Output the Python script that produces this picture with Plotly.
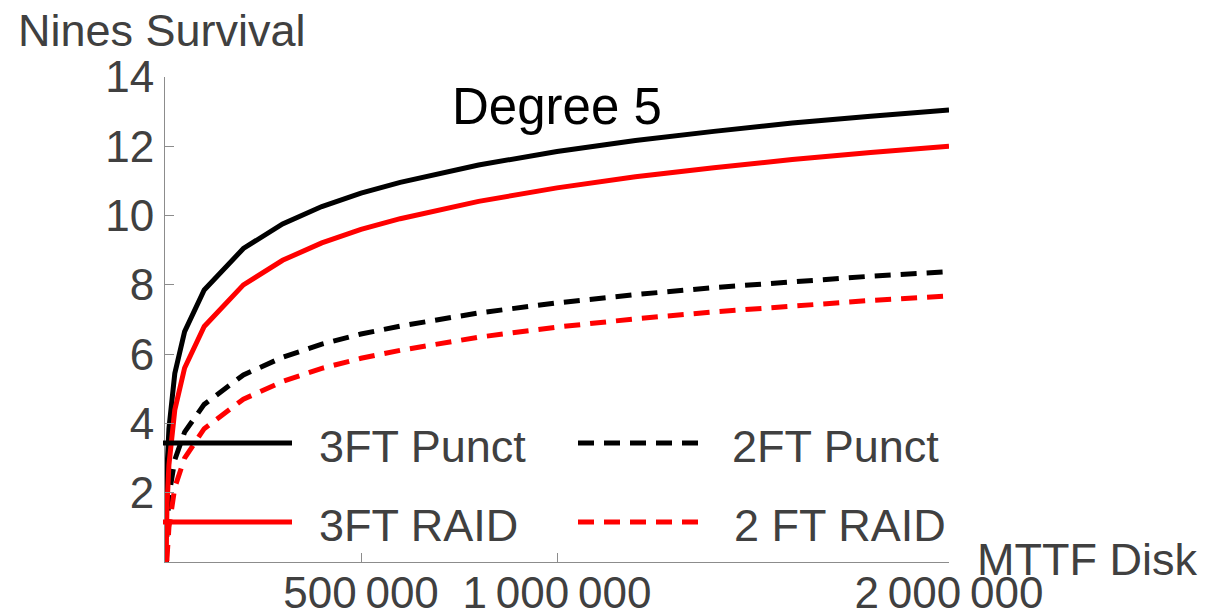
import plotly.graph_objects as go

# ---------------- data ----------------
mttf = [1000, 2000, 3500, 5000, 10000, 25000, 50000, 100000, 200000, 300000,
        400000, 500000, 600000, 800000, 1000000, 1200000, 1400000, 1600000,
        1800000, 2000000]

punct_3ft = [-0.15, 1.05, 2.03, 2.65, 3.85, 5.44, 6.65, 7.85, 9.05, 9.76,
             10.26, 10.65, 10.96, 11.46, 11.85, 12.17, 12.43, 12.67, 12.87, 13.05]
raid_3ft = [-1.2, 0.0, 0.98, 1.6, 2.8, 4.39, 5.6, 6.8, 8.0, 8.71,
            9.21, 9.6, 9.91, 10.41, 10.8, 11.12, 11.38, 11.62, 11.82, 12.0]
punct_2ft = [-1.52, -0.62, 0.3, 0.8, 1.9, 2.95, 3.75, 4.55, 5.4, 5.91,
             6.29, 6.58, 6.81, 7.19, 7.48, 7.72, 7.92, 8.09, 8.25, 8.38]
raid_2ft = [-2.22, -1.32, -0.4, 0.1, 1.0, 2.15, 3.0, 3.85, 4.7, 5.21,
            5.59, 5.88, 6.11, 6.49, 6.78, 7.02, 7.22, 7.39, 7.55, 7.68]

series_names = ["3FT Punct", "2FT Punct", "3FT RAID", "2 FT RAID"]

x_tickvals = [500000, 1000000, 2000000]
x_ticktext = ["500\u2009000", "1\u2009000\u2009000", "2\u2009000\u2009000"]
y_tickvals = [2, 4, 6, 8, 10, 12, 14]

# ---------------- styling ----------------
FONT = "Liberation Sans, Arial, Helvetica, sans-serif"
TXT = "#404040"
AX = "#8c8c8c"
DASH = "16px,10px"
LW = 5

W, H = 1209, 615
ML, MR, MT, MB = 165, 260, 77, 53
PW, PH = W - ML - MR, H - MT - MB


def px2paper_x(px):
    return (px - ML) / PW


def px2paper_y(py):
    return (H - MB - py) / PH


fig = go.Figure()
styles = [
    (punct_3ft, "black", "solid"),
    (punct_2ft, "black", DASH),
    (raid_3ft, "red", "solid"),
    (raid_2ft, "red", DASH),
]
for (vals, col, dash), name in zip(styles, series_names):
    fig.add_trace(go.Scatter(x=mttf, y=vals, mode="lines", name=name,
                             line=dict(color=col, width=LW, dash=dash),
                             showlegend=False))

fig.update_layout(
    width=W, height=H,
    margin=dict(l=ML, r=MR, t=MT, b=MB, pad=0, autoexpand=False),
    paper_bgcolor="white", plot_bgcolor="white",
    font=dict(family=FONT, color=TXT),
    xaxis=dict(range=[0, 2000000], tickvals=x_tickvals, ticktext=x_ticktext,
               showgrid=False, zeroline=False, showline=True, linecolor=AX,
               linewidth=1, ticks="inside", ticklen=9, tickcolor=AX,
               tickwidth=1, tickfont=dict(size=44, color=TXT, family=FONT),
               ticklabelstandoff=-8, automargin=False),
    yaxis=dict(range=[0, 14], tickvals=y_tickvals,
               showgrid=False, zeroline=False, showline=True, linecolor=AX,
               linewidth=1, ticks="inside", ticklen=9, tickcolor=AX,
               tickwidth=1, tickfont=dict(size=44, color=TXT, family=FONT),
               ticklabelstandoff=1, automargin=False),
)

# axis labels and title
fig.add_annotation(text="Nines Survival", xref="paper", yref="paper",
                   x=px2paper_x(16), y=px2paper_y(31), xanchor="left",
                   yanchor="middle", showarrow=False,
                   font=dict(size=45, color=TXT, family=FONT))
fig.add_annotation(text="MTTF Disk", xref="paper", yref="paper",
                   x=px2paper_x(975), y=px2paper_y(559), xanchor="left",
                   yanchor="middle", showarrow=False,
                   font=dict(size=45, color=TXT, family=FONT))
fig.add_annotation(text="Degree 5", xref="paper", yref="paper",
                   x=px2paper_x(557), y=px2paper_y(106), xanchor="center",
                   yanchor="middle", showarrow=False,
                   font=dict(size=51, color="black", family=FONT))

# legend (drawn manually to mimic the long swatches)
leg = [
    (0, 163, 292, 443, 317),
    (1, 578, 703, 443, 730),
    (2, 163, 292, 522, 317),
    (3, 578, 703, 522, 732),
]
for idx, x0, x1, yy, tx in leg:
    vals, col, dash = styles[idx]
    fig.add_shape(type="line", xref="paper", yref="paper",
                  x0=px2paper_x(x0), x1=px2paper_x(x1),
                  y0=px2paper_y(yy), y1=px2paper_y(yy),
                  line=dict(color=col, width=LW, dash=dash))
    fig.add_annotation(text=series_names[idx], xref="paper", yref="paper",
                       x=px2paper_x(tx), y=px2paper_y(yy + 3), xanchor="left",
                       yanchor="middle", showarrow=False,
                       font=dict(size=45, color=TXT, family=FONT))

fig.write_html("out.html")
